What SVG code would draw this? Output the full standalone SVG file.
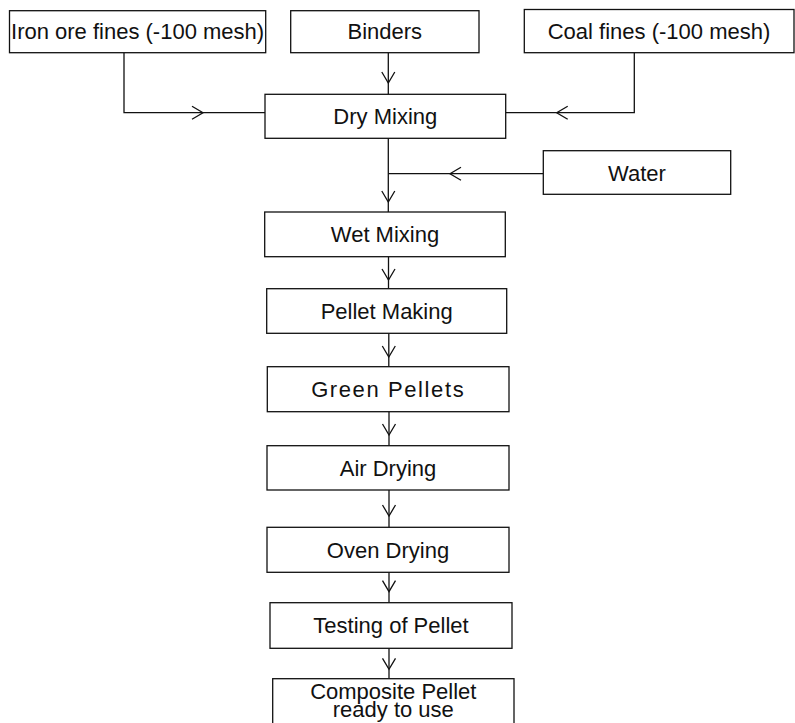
<svg xmlns="http://www.w3.org/2000/svg" width="795" height="723" viewBox="0 0 795 723">
<style>
rect.box{fill:#fff;stroke:#111;stroke-width:1.3}
text{font-family:"Liberation Sans",Arial,sans-serif;font-size:22px;fill:#111;text-anchor:middle}
.c path{fill:none;stroke:#111;stroke-width:1.3}
</style>
<defs>
<marker id="v" markerUnits="userSpaceOnUse" markerWidth="14" markerHeight="16" viewBox="-12 -8 14 16" refX="0" refY="0" orient="auto" overflow="visible">
<path d="M-11,-6.5 L0,0 L-11,6.5" fill="none" stroke="#111" stroke-width="1.3"/>
</marker>
</defs>
<rect width="795" height="723" fill="#fff"/>
<g class="c" id="connectors">
<path d="M124,52.7 V112.7 H203" marker-end="url(#v)"/>
<path d="M203,112.7 H265"/>
<path d="M388.3,52.7 V83" marker-end="url(#v)"/>
<path d="M388.3,83 V94.3"/>
<path d="M634.3,52.7 V112.7 H556.7" marker-end="url(#v)"/>
<path d="M556.7,112.7 H505.7"/>
<path d="M543.3,173.7 H450" marker-end="url(#v)"/>
<path d="M450,173.7 H388.3"/>
<path d="M388.3,138.3 V202" marker-end="url(#v)"/>
<path d="M388.3,202 V212"/>
<path d="M388.5,256.7 V280" marker-end="url(#v)"/>
<path d="M388.5,280 V288.7"/>
<path d="M388.8,333.3 V357" marker-end="url(#v)"/>
<path d="M388.8,357 V366.7"/>
<path d="M389,411.7 V435" marker-end="url(#v)"/>
<path d="M389,435 V445.7"/>
<path d="M389,490 V516" marker-end="url(#v)"/>
<path d="M389,516 V527.3"/>
<path d="M389,572.3 V591.7" marker-end="url(#v)"/>
<path d="M389,591.7 V602.7"/>
<path d="M389,648.3 V669.3" marker-end="url(#v)"/>
<path d="M389,669.3 V678.7"/>
</g>
<g id="iron"><rect class="box" x="9.5" y="10.7" width="256.2" height="42"/><text x="137.6" y="39.3">Iron ore fines (-100 mesh)</text></g>
<g id="binders"><rect class="box" x="290.7" y="10.7" width="188.3" height="42"/><text x="384.8" y="39.3">Binders</text></g>
<g id="coal"><rect class="box" x="524.3" y="9.5" width="269.7" height="43.2"/><text x="659" y="39.3">Coal fines (-100 mesh)</text></g>
<g id="dry"><rect class="box" x="265" y="94.3" width="240.7" height="44"/><text x="385.3" y="124">Dry Mixing</text></g>
<g id="water"><rect class="box" x="543.3" y="150.7" width="187.4" height="43.6"/><text x="637" y="180.5">Water</text></g>
<g id="wet"><rect class="box" x="264.7" y="212" width="240.6" height="44.7"/><text x="385" y="242">Wet Mixing</text></g>
<g id="pellet"><rect class="box" x="266.7" y="288.7" width="240" height="44.6"/><text x="386.7" y="318.5">Pellet Making</text></g>
<g id="green"><rect class="box" x="267.3" y="366.7" width="241.7" height="45"/><text x="388.2" y="396.7" letter-spacing="1.6">Green Pellets</text></g>
<g id="air"><rect class="box" x="267" y="445.7" width="242" height="44.3"/><text x="388" y="475.5">Air Drying</text></g>
<g id="oven"><rect class="box" x="267" y="527.3" width="242" height="45"/><text x="388" y="557.5">Oven Drying</text></g>
<g id="testing"><rect class="box" x="270" y="602.7" width="242" height="45.6"/><text x="391" y="633">Testing of Pellet</text></g>
<g id="composite"><rect class="box" x="272.7" y="678.7" width="241.3" height="60"/><text x="393.3" y="698.5" font-size="20">Composite Pellet</text><text x="393.3" y="717" font-size="20">ready to use</text></g>
</svg>
